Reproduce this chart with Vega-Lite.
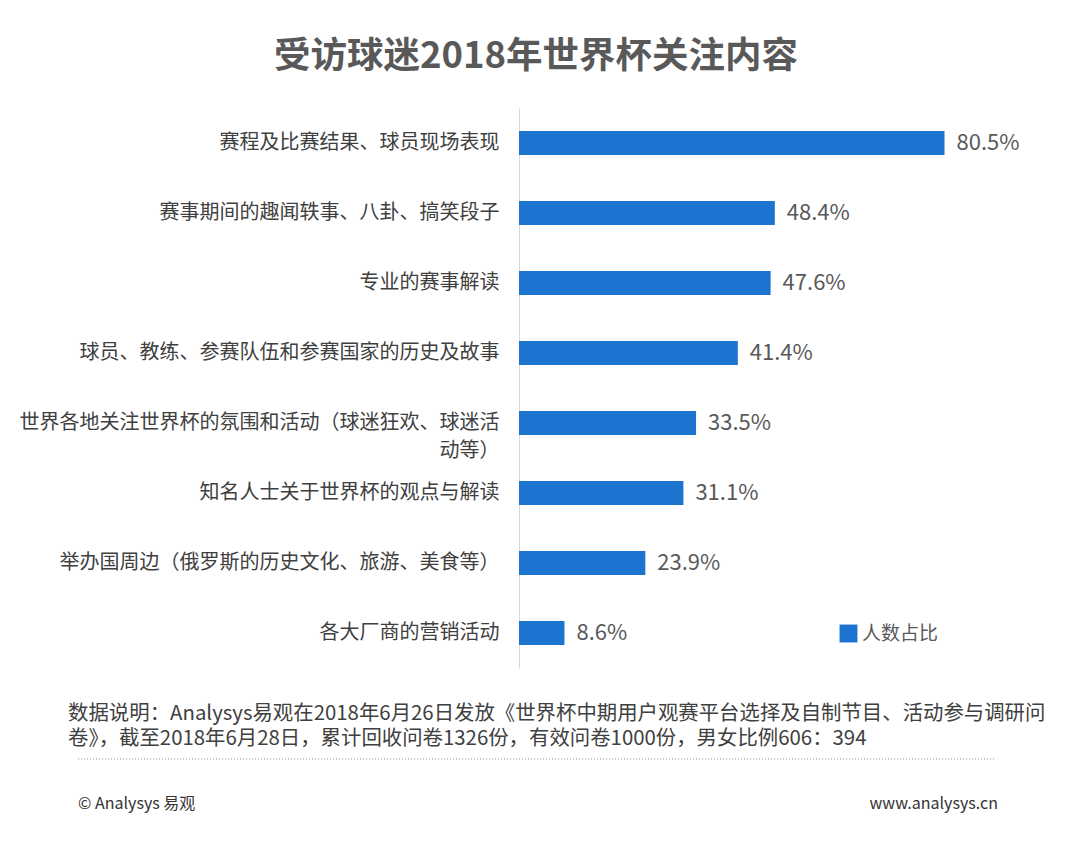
{
  "$schema": "https://vega.github.io/schema/vega-lite/v6.json",
  "padding": {"left": 19, "top": 38, "right": 10, "bottom": 10},
  "background": "white",
  "title": {
    "text": "受访球迷2018年世界杯关注内容",
    "anchor": "middle",
    "fontSize": 36.5,
    "fontWeight": "bold",
    "color": "#595959",
    "font": "Noto Sans CJK SC",
    "offset": 33,
    "dx": 3
  },
  "datasets": {
    "topics": [
      {"topic": "赛程及比赛结果、球员现场表现", "share": 80.5},
      {"topic": "赛事期间的趣闻轶事、八卦、搞笑段子", "share": 48.4},
      {"topic": "专业的赛事解读", "share": 47.6},
      {"topic": "球员、教练、参赛队伍和参赛国家的历史及故事", "share": 41.4},
      {"topic": "世界各地关注世界杯的氛围和活动（球迷狂欢、球迷活动等）", "share": 33.5},
      {"topic": "知名人士关于世界杯的观点与解读", "share": 31.1},
      {"topic": "举办国周边（俄罗斯的历史文化、旅游、美食等）", "share": 23.9},
      {"topic": "各大厂商的营销活动", "share": 8.6}
    ],
    "note": [
      {"text": "数据说明：Analysys易观在2018年6月26日发放《世界杯中期用户观赛平台选择及自制节目、活动参与调研问\n卷》，截至2018年6月28日，累计回收问卷1326份，有效问卷1000份，男女比例606：394"}
    ],
    "footLeft": [{"text": "© Analysys 易观"}],
    "footRight": [{"text": "www.analysys.cn"}]
  },
  "spacing": 36,
  "resolve": {"legend": {"color": "independent"}},
  "vconcat": [
    {
      "width": 444,
      "height": 560,
      "data": {"name": "topics"},
      "transform": [
        {"calculate": "format(datum.share, '.1f') + '%'", "as": "label"}
      ],
      "encoding": {
        "y": {
          "field": "topic",
          "type": "nominal",
          "sort": null,
          "title": null,
          "scale": {"paddingInner": 0.657, "paddingOuter": 0.3285},
          "axis": {
            "ticks": false,
            "labelPadding": 20,
            "labelFontSize": 20,
            "labelColor": "#404040",
            "labelLimit": 700,
            "labelLineHeight": 28,
            "domainColor": "#d9d9d9",
            "labelExpr": "datum.value == '世界各地关注世界杯的氛围和活动（球迷狂欢、球迷活动等）' ? ['世界各地关注世界杯的氛围和活动（球迷狂欢、球迷活', '动等）'] : datum.value"
          }
        },
        "x": {
          "field": "share",
          "type": "quantitative",
          "scale": {"domain": [0, 84]},
          "axis": null
        }
      },
      "layer": [
        {
          "mark": {"type": "bar"},
          "encoding": {
            "color": {
              "datum": "人数占比",
              "type": "nominal",
              "scale": {"range": ["#1c74d0"]},
              "legend": {
                "title": null,
                "orient": "bottom-right",
                "offset": 24,
                "symbolType": "square",
                "symbolSize": 320,
                "symbolStrokeWidth": 0,
                "labelFontSize": 19,
                "labelColor": "#595959",
                "labelOffset": 4
              }
            }
          }
        },
        {
          "mark": {
            "type": "text",
            "align": "left",
            "baseline": "middle",
            "dx": 12,
            "fontSize": 22,
            "color": "#595959"
          },
          "encoding": {
            "text": {"field": "label"}
          }
        }
      ]
    },
    {
      "width": 528,
      "height": 110,
      "layer": [
        {
          "data": {"name": "note"},
          "mark": {
            "type": "text",
            "align": "left",
            "baseline": "top",
            "lineBreak": "\n",
            "lineHeight": 24.5,
            "fontSize": 20.4,
            "color": "#404040"
          },
          "encoding": {
            "x": {"datum": -85.4, "type": "quantitative", "scale": {"domain": [0, 100]}, "axis": null},
            "y": {"datum": 0, "type": "quantitative", "scale": {"domain": [0, 110], "reverse": true}, "axis": null},
            "text": {"field": "text"}
          }
        },
        {
          "data": {"values": [{}]},
          "mark": {"type": "rule", "strokeDash": [1, 2], "color": "#8c8c8c", "strokeWidth": 1},
          "encoding": {
            "x": {"datum": -83.5, "type": "quantitative"},
            "x2": {"datum": 90.3},
            "y": {"datum": 55, "type": "quantitative"}
          }
        },
        {
          "data": {"name": "footLeft"},
          "mark": {"type": "text", "align": "left", "baseline": "middle", "fontSize": 16, "color": "#333333"},
          "encoding": {
            "x": {"datum": -83.5, "type": "quantitative"},
            "y": {"datum": 100, "type": "quantitative"},
            "text": {"field": "text"}
          }
        },
        {
          "data": {"name": "footRight"},
          "mark": {"type": "text", "align": "right", "baseline": "middle", "fontSize": 16, "color": "#333333"},
          "encoding": {
            "x": {"datum": 90.7, "type": "quantitative"},
            "y": {"datum": 100, "type": "quantitative"},
            "text": {"field": "text"}
          }
        }
      ]
    }
  ],
  "config": {
    "font": "Noto Sans CJK SC",
    "view": {"stroke": null}
  }
}
